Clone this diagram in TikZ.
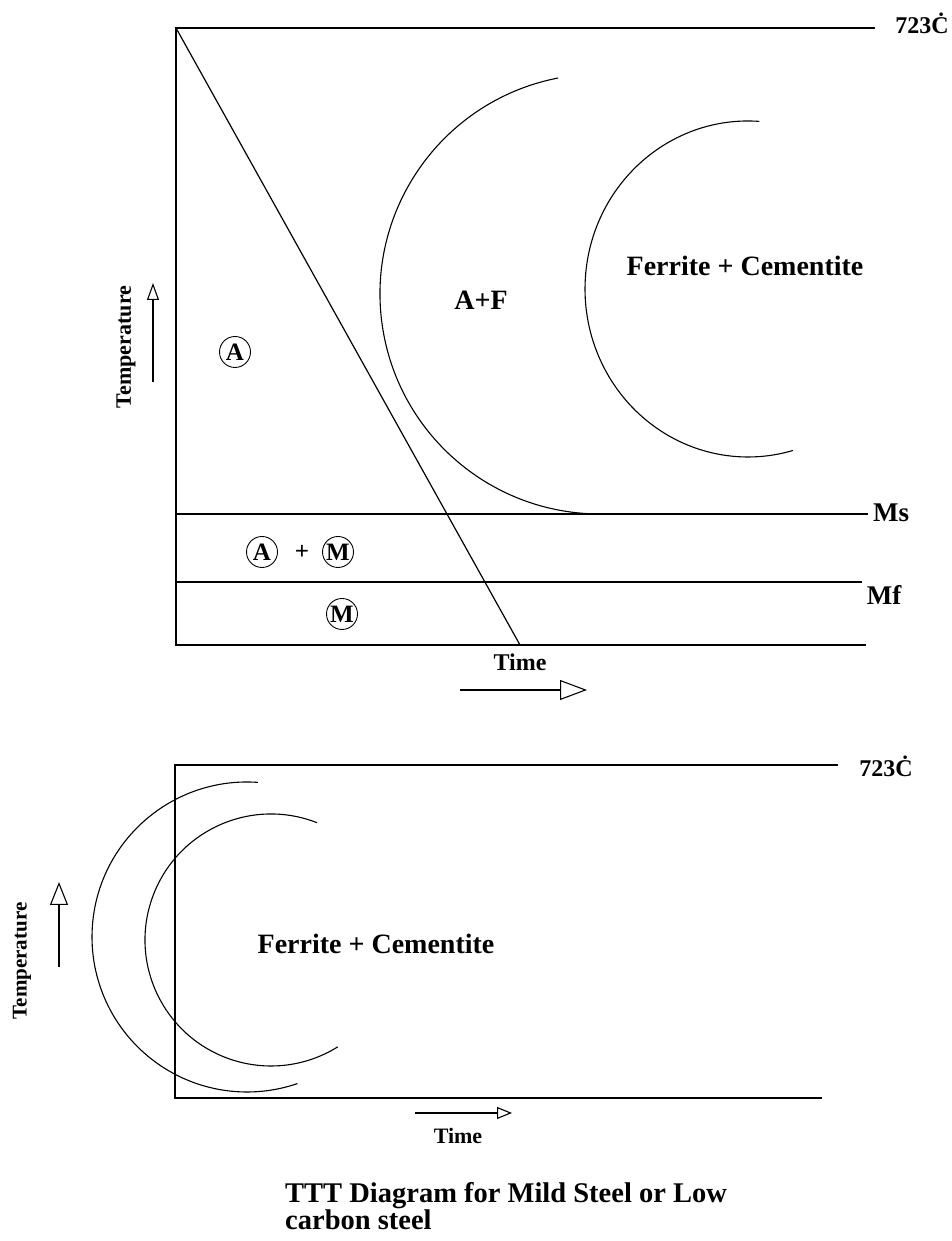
\documentclass[tikz,border=0pt]{standalone}
\usepackage{fontspec}
\setmainfont{Liberation Serif}
\usetikzlibrary{arrows.meta}
\newcommand{\degC}{723Ċ}
\begin{document}
\begin{tikzpicture}[x=1pt,y=1pt,
  lbl/.style={font=\bfseries\fontsize{#1}{#1}\selectfont, inner sep=0pt},
  circled/.style={draw, circle, line width=0.9pt, minimum size=31pt, inner sep=0pt,
    font=\bfseries\fontsize{25}{25}\selectfont},
  axis/.style={line width=1.4pt},
  curve/.style={line width=1.1pt},
  diag/.style={line width=1.2pt},
  arr/.style={line width=1.1pt}]
\useasboundingbox (0,0) rectangle (952,1241);
% ---------------- top chart ----------------
\coordinate (tTL) at (176,1213);
\coordinate (tTR) at (875,1213);
\coordinate (tBL) at (176,596);
\coordinate (tBR) at (866,596);
\coordinate (msL) at (176,727);
\coordinate (msR) at (868,727);
\coordinate (mfL) at (176,659);
\coordinate (mfR) at (862,659);
\coordinate (cool) at (520,596);
\draw[axis] (tTR) -- (tTL) -- (tBL) -- (tBR);
\draw[axis] (msL) -- (msR);
\draw[axis] (mfL) -- (mfR);
\draw[diag] (tTL) -- (cool);
\draw[curve] (600,947) ++(101:220) arc[start angle=101, end angle=269, radius=220];
\draw[curve] (748,952) ++(86:163 and 168) arc[start angle=86, end angle=286, x radius=163, y radius=168];
\node[lbl=24] (t723) at (922,1218) {\degC};
\node[lbl=27] (ms) at (891,728) {Ms};
\node[lbl=27] (mf) at (884,646) {Mf};
\node[lbl=24] (ttime) at (520,579) {Time};
\node[lbl=22, rotate=90] (ttemp) at (126,894) {Temperature};
\coordinate (ta1) at (460,551);
\coordinate (ta2) at (587,551);
\draw[arr, -{Triangle[open, length=27pt, width=20pt]}] (ta1) -- (ta2);
\coordinate (tt1) at (153,859);
\coordinate (tt2) at (153,958);
\draw[arr, -{Triangle[open, length=17pt, width=12pt]}] (tt1) -- (tt2);
\node[lbl=28] (af) at (481,941) {A+F};
\node[lbl=28] (fc1) at (745,975) {Ferrite + Cementite};
\node[circled] (a1) at (235,889) {A};
\node[circled] (a2) at (262,689) {A};
\node[lbl=25] (plus) at (302,689) {+};
\node[circled] (m1) at (338,689) {M};
\node[circled] (m2) at (342,627) {M};
% ---------------- bottom chart ----------------
\coordinate (bTL) at (175,476);
\coordinate (bTR) at (838,476);
\coordinate (bBL) at (175,143);
\coordinate (bBR) at (822,143);
\draw[axis] (bTR) -- (bTL) -- (bBL) -- (bBR);
\draw[curve] (247,304) ++(86:155) arc[start angle=86, end angle=289, radius=155];
\draw[curve] (271,301) ++(68.6:126) arc[start angle=68.6, end angle=302, radius=126];
\node[lbl=24] (b723) at (886,475) {\degC};
\node[lbl=28] (fc2) at (376,297) {Ferrite + Cementite};
\node[lbl=21, rotate=90] (btemp) at (22,280) {Temperature};
\node[lbl=22] (btime) at (458,105) {Time};
\coordinate (bt1) at (59,274);
\coordinate (bt2) at (59,359);
\draw[arr, -{Triangle[open, length=23pt, width=18pt]}] (bt1) -- (bt2);
\coordinate (bx1) at (415,128);
\coordinate (bx2) at (512,128);
\draw[arr, -{Triangle[open, length=15pt, width=12pt]}] (bx1) -- (bx2);
% ---------------- caption ----------------
\node[font=\bfseries\fontsize{28.5}{26}\selectfont, align=left, anchor=north west, inner sep=0pt]
  (cap) at (285,59) {TTT Diagram for Mild Steel or Low\\carbon steel};
\end{tikzpicture}
\end{document}
